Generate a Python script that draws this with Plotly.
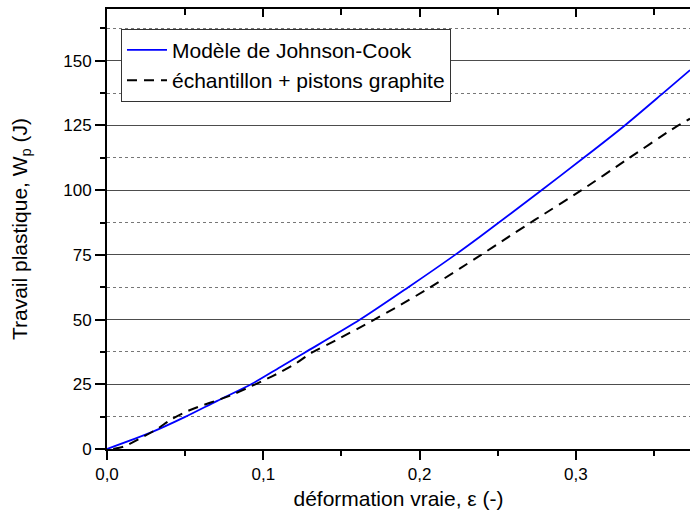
import plotly.graph_objects as go

# Johnson-Cook model curve
jc_eps = [0.0, 0.0286, 0.05, 0.0702, 0.0928, 0.1107, 0.1267, 0.1619, 0.1928,
          0.2227, 0.2386, 0.278, 0.305, 0.3313, 0.3558, 0.373]
jc_wp = [0.0, 6.5, 12.4, 18.5, 25.2, 31.6, 37.3, 50.0, 62.5,
         75.0, 82.0, 100.0, 112.5, 125.0, 137.5, 146.4]

# Sample + graphite pistons (dashed)
exp_eps = [0.004, 0.0106, 0.0234, 0.032, 0.0415, 0.051, 0.0608, 0.070, 0.0799,
           0.0895, 0.1002, 0.111, 0.1205, 0.1299, 0.147, 0.1672, 0.1864, 0.2056,
           0.2259, 0.2376, 0.2545, 0.2737, 0.3036, 0.3323, 0.3612, 0.373]
exp_wp = [0.0, 0.9, 4.8, 7.7, 11.6, 14.5, 16.8, 18.7, 20.9,
          23.5, 26.5, 29.7, 32.9, 36.8, 42.2, 48.7, 55.2, 62.0,
          69.8, 74.3, 81.0, 88.5, 100.0, 111.7, 123.4, 127.6]

x_tickvals = [0.0, 0.1, 0.2, 0.3]
x_ticktext = ["0,0", "0,1", "0,2", "0,3"]
y_tickvals = [0, 25, 50, 75, 100, 125, 150]

name_jc = "Modèle de Johnson-Cook"
name_exp = "échantillon + pistons graphite"

FONT = "Liberation Sans, Arial, sans-serif"

fig = go.Figure()
fig.add_trace(go.Scatter(x=jc_eps, y=jc_wp, mode="lines", name=name_jc,
                         line=dict(color="#0000ff", width=1.8, shape="spline", smoothing=0.8)))
fig.add_trace(go.Scatter(x=exp_eps, y=exp_wp, mode="lines", name=name_exp,
                         line=dict(color="#000000", width=2, dash="10px,7px", shape="spline", smoothing=0.6)))
# helper trace for top axis
fig.add_trace(go.Scatter(x=[None], y=[None], xaxis="x2", showlegend=False, hoverinfo="skip"))

fig.update_layout(
    width=690, height=521,
    margin=dict(l=107, r=0, t=9, b=72),
    paper_bgcolor="white", plot_bgcolor="white",
    font=dict(family=FONT, color="black", size=17),
    showlegend=True,
    legend=dict(x=0.024, y=0.955, xanchor="left", yanchor="top",
                bgcolor="white", bordercolor="#333333", borderwidth=1,
                font=dict(size=21, family=FONT), tracegroupgap=0,
                itemwidth=40),
    xaxis=dict(range=[0, 0.373], tickvals=x_tickvals, ticktext=x_ticktext,
               ticks="outside", ticklen=9, tickwidth=1.5, tickcolor="black",
               showline=True, linecolor="black", linewidth=2,
               showgrid=False, zeroline=False, automargin=False,
               minor=dict(dtick=0.05, tick0=0, ticks="outside", ticklen=5, tickwidth=1.5,
                          tickcolor="black", showgrid=False),
               tickfont=dict(size=17),
               title=dict(text="déformation vraie, ε (-)", font=dict(size=21), standoff=8)),
    xaxis2=dict(range=[0, 0.373], overlaying="x", side="top",
                tickvals=x_tickvals, showticklabels=False,
                ticks="inside", ticklen=8, tickwidth=1.5, tickcolor="black",
                showline=True, linecolor="black", linewidth=1.5,
                showgrid=False, zeroline=False, automargin=False,
                minor=dict(dtick=0.05, tick0=0, ticks="inside", ticklen=6, tickwidth=1.5,
                           tickcolor="black", showgrid=False)),
    yaxis=dict(range=[0, 170], tickvals=y_tickvals,
               ticks="outside", ticklen=10, tickwidth=1.5, tickcolor="black",
               showline=True, linecolor="black", linewidth=2,
               showgrid=True, gridcolor="#4d4d4d", gridwidth=1, zeroline=False,
               automargin=False,
               minor=dict(dtick=12.5, tick0=0, ticks="outside", ticklen=5, tickwidth=1.5,
                          tickcolor="black", showgrid=True, gridcolor="#777777",
                          griddash="dot", gridwidth=1),
               tickfont=dict(size=17),
               title=dict(text="Travail plastique, W<sub>p</sub> (J)", font=dict(size=21), standoff=30)),
)

fig.write_html("out.html", config={"displayModeBar": False},
               post_script="document.body.style.margin='0';")
